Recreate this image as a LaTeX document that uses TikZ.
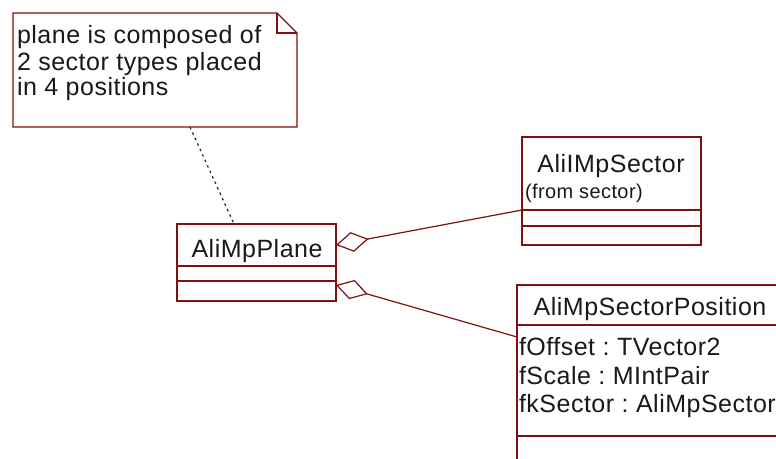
\documentclass[tikz,border=0pt]{standalone}
\usepackage{fontspec}
\setmainfont[LetterSpace=2]{Liberation Sans}
\usetikzlibrary{arrows.meta}
\definecolor{umlline}{RGB}{128,16,16}
\definecolor{umltext}{RGB}{25,25,25}
\frenchspacing
\begin{document}
\begin{tikzpicture}[x=1pt,y=-1pt,
  classbox/.style={draw=umlline, line width=1.2pt, fill=white, rectangle, inner sep=0pt, outer sep=0pt},
  ghost/.style={rectangle, inner sep=0pt, outer sep=0pt},
  noteline/.style={draw=umlline, line width=1.2pt, line join=miter},
  lbl/.style={inner sep=0pt, outer sep=0pt, text=umltext, font=\fontsize{25}{26}\selectfont},
  smalllbl/.style={inner sep=0pt, outer sep=0pt, text=umltext, font=\fontsize{20}{24}\selectfont},
  sepline/.style={draw=umlline, line width=1.2pt},
  agg/.style={draw=umlline, line width=1.2pt, -{Diamond[open,length=33pt,width=20pt]}},
  notelink/.style={draw=black!85, line width=1.2pt, dash pattern=on 2.5pt off 3.5pt},
  ]
\useasboundingbox (0,0) rectangle (776,458);
\clip (0,0) rectangle (776,458);
\fill[white] (0,0) rectangle (776,458);

% note
\node[ghost, minimum width=284pt, minimum height=114pt] (note) at (155,70) {};
\filldraw[noteline, fill=white] (note.north west) -- ([xshift=-20pt]note.north east) -- ([yshift=-20pt]note.north east) -- (note.south east) -- (note.south west) -- cycle;
\draw[noteline] ([xshift=-20pt]note.north east) -- ([xshift=-20pt,yshift=-20pt]note.north east) -- ([yshift=-20pt]note.north east);
\node[lbl, anchor=base west] (nl1) at (17,43) {plane is composed of};
\node[lbl, anchor=base west] (nl2) at (17,70) {2 sector types placed};
\node[lbl, anchor=base west] (nl3) at (17,95) {in 4 positions};

% AliMpPlane
\node[classbox, minimum width=159pt, minimum height=77pt] (plane) at (256.5,262.5) {};
\draw[sepline] ([yshift=-42pt]plane.north west) -- ([yshift=-42pt]plane.north east);
\draw[sepline] ([yshift=-57pt]plane.north west) -- ([yshift=-57pt]plane.north east);
\node[lbl, anchor=base] (planename) at (257,257) {AliMpPlane};

% AliIMpSector
\node[classbox, minimum width=179pt, minimum height=108pt] (sec) at (611.5,191) {};
\draw[sepline] ([yshift=-73pt]sec.north west) -- ([yshift=-73pt]sec.north east);
\draw[sepline] ([yshift=-89pt]sec.north west) -- ([yshift=-89pt]sec.north east);
\node[lbl, anchor=base] (secname) at (611,172) {AliIMpSector};
\node[smalllbl, anchor=base west] (secfrom) at (525,198) {(from sector)};

% AliMpSectorPosition
\node[classbox, minimum width=283pt, minimum height=195pt] (pos) at (658.5,382.5) {};
\draw[sepline] ([yshift=-40pt]pos.north west) -- ([yshift=-40pt]pos.north east);
\draw[sepline] ([yshift=-151pt]pos.north west) -- ([yshift=-151pt]pos.north east);
\node[lbl, anchor=base] (posname) at (650,315) {AliMpSectorPosition};
\node[lbl, anchor=base west] (posa1) at (519,355) {fOffset : TVector2};
\node[lbl, anchor=base west] (posa2) at (519,384) {fScale : MIntPair};
\node[lbl, anchor=base west] (posa3) at (519,412) {fkSector : AliMpSector};

% connectors
\draw[notelink] ([xshift=35pt]note.south) -- ([xshift=-22.5pt]plane.north);
\draw[agg] ([yshift=-19pt]sec.west) -- ([yshift=17.5pt]plane.east);
\draw[agg] ([yshift=-52pt]pos.north west) -- ([yshift=-22.5pt]plane.east);
\end{tikzpicture}
\end{document}
